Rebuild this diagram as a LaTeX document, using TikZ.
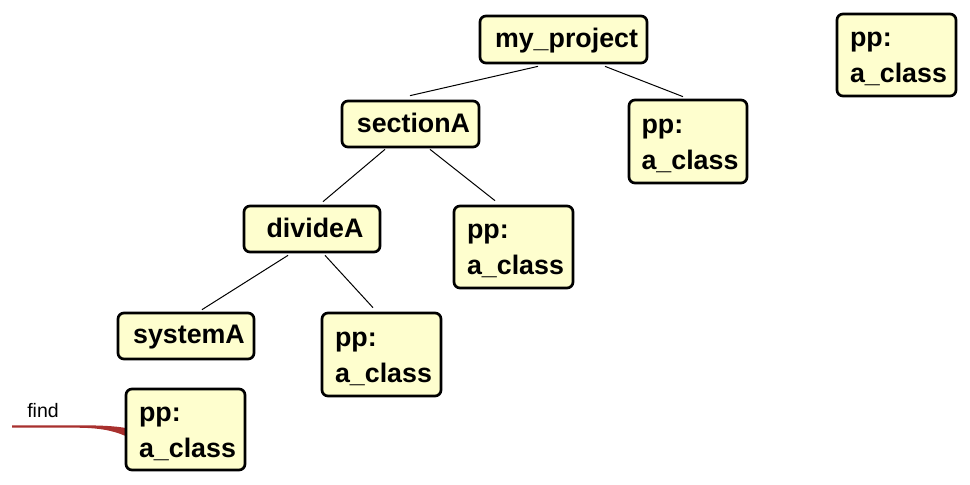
\documentclass[tikz,border=0pt]{standalone}
\usepackage{fontspec}
\setmainfont{Liberation Sans}
\usetikzlibrary{calc,backgrounds}
\definecolor{boxfill}{HTML}{FEFECE}
\definecolor{findred}{HTML}{A8302E}
\newcommand{\twoline}[2]{\hspace*{4pt}\rule{0pt}{24pt}#1\\\hspace*{4pt}#2\rule[-5pt]{0pt}{5pt}}
\newcommand{\oneline}[1]{\hspace*{6pt}\rule[-5pt]{0pt}{26pt}#1}
\tikzset{
  box/.style={draw=black, line width=2.7pt, rounded corners=6pt, fill=boxfill,
    font=\bfseries\fontsize{26.8}{36}\selectfont, align=left, inner sep=0pt},
  link/.style={draw=black, line width=1pt},
}
\begin{document}
\begin{tikzpicture}[x=1pt,y=1pt]
\useasboundingbox (0,0) rectangle (970,-485);
\coordinate (findstart) at (12,-426.5);
\node[box, minimum width=167, minimum height=47] (proj) at (563.5,-39.5) {\oneline{my\_project}};
\node[box, minimum width=119, minimum height=82] (pptr) at (896.5,-55) {\twoline{pp:}{a\_class}};
\node[box, minimum width=137, minimum height=46] (secA) at (410.5,-124) {\oneline{sectionA}};
\node[box, minimum width=118, minimum height=83] (pp1) at (688,-141.5) {\twoline{pp:}{a\_class}};
\node[box, minimum width=136, minimum height=46] (divA) at (312,-229) {\oneline{divideA}};
\node[box, minimum width=119, minimum height=82] (pp2) at (513.5,-247) {\twoline{pp:}{a\_class}};
\node[box, minimum width=136, minimum height=46] (sysA) at (186,-336) {\oneline{systemA}};
\node[box, minimum width=119, minimum height=83] (pp3) at (381.5,-354.5) {\twoline{pp:}{a\_class}};
\node[box, minimum width=119, minimum height=81] (pp4) at (185.5,-429.5) {\twoline{pp:}{a\_class}};

\draw[link] ($(proj.south)+(-25.5,-2)$) -- ($(secA.north)+(-0.5,4)$);
\draw[link] ($(proj.south)+(41.5,-2)$) -- ($(pp1.north)+(-5,2)$);
\draw[link] ($(secA.south)+(-25.5,-1)$) -- ($(divA.north)+(11,3)$);
\draw[link] ($(secA.south)+(19.5,-1)$) -- ($(pp2.north)+(-18.5,4)$);
\draw[link] ($(divA.south)+(-24,-2)$) -- ($(sysA.north)+(16,2)$);
\draw[link] ($(divA.south)+(13,-2)$) -- ($(pp3.north)+(-8.5,4)$);

\node[font=\fontsize{19.5}{22}\selectfont, inner sep=0pt, anchor=base] (findlbl) at (43,-417) {find};
\begin{scope}[on background layer]
\fill[findred] ($(findstart)+(0,1.2)$) -- ++(63,0)
  .. controls ($(pp4.west)+(-25,4.3)$) and ($(pp4.west)+(-10,3.5)$) .. ($(pp4.west)+(1,1.5)$)
  -- ($(pp4.west)+(1,-6.5)$)
  .. controls ($(pp4.west)+(-12,-1)$) and ($(pp4.west)+(-25,1.8)$) .. ($(findstart)+(63,-1.2)$)
  -- ($(findstart)+(0,-1.2)$) -- cycle;
\end{scope}
\end{tikzpicture}
\end{document}
